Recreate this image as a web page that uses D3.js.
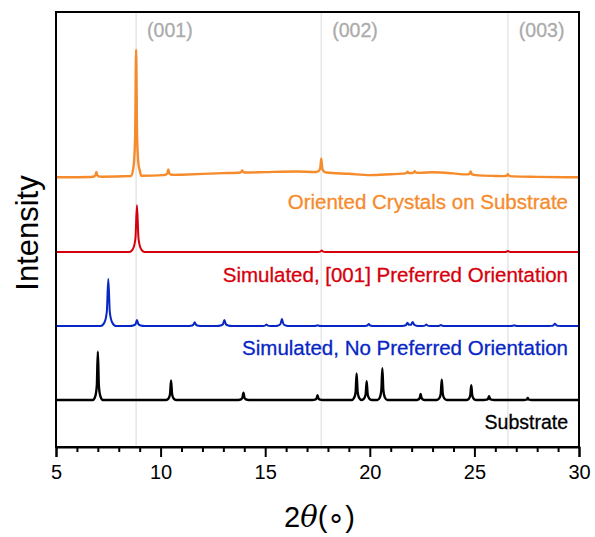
<!DOCTYPE html>
<html>
<head>
<meta charset="utf-8">
<script src="https://cdn.jsdelivr.net/npm/d3@7/dist/d3.min.js"></script>
<style>
  body { margin: 0; background: #fff; }
  text { font-family: "Liberation Sans", Arial, sans-serif; }
</style>
</head>
<body>
<div id="chart"></div>
<script>
// data (2theta in degrees, intensity in arbitrary units)
var xTicks = [5, 10, 15, 20, 25, 30];
var refLines = [8.83, 17.68, 26.6];
var refLabels = ["(001)", "(002)", "(003)"];

var seriesNames = ["Oriented Crystals on Substrate", "Simulated, [001] Preferred Orientation",
    "Simulated, No Preferred Orientation", "Substrate"];
var seriesColors = ["#f68b2c", "#d6000c", "#0726c4", "#000000"];
var seriesOffsets = [62.0, 44.8, 27.8, 10.8];
var seriesWidths = [0.08, 0.12, 0.12, 0.08];

// baselines relative to offset
var orangeBase = [[5, 0], [7, 0.1], [9, 0.35], [11, 0.6], [13, 0.95], [15, 1.2], [16.5, 1.35],
    [17.5, 1.2], [19, 0.8], [20, 0.5], [21, 0.7], [22, 0.95], [23, 1.15], [24, 0.9],
    [25, 0.5], [26, 0.3], [28, 0.1], [30, 0]];
var flatBase = [[5, 0], [30, 0]];

// peaks [position, height]
var orangePeaks = [[6.93, 1.15], [8.83, 29.0], [10.37, 1.3], [13.9, 0.5], [17.68, 3.2],
    [21.8, 0.4], [22.15, 0.45], [24.82, 0.8], [26.6, 0.5]];
var redPeaks = [[8.87, 10.8], [17.7, 0.35], [26.6, 0.25]];
var bluePeaks = [[7.5, 10.8], [8.87, 1.4], [11.63, 0.9], [13.05, 1.4], [15.06, 0.35],
    [15.8, 1.6], [17.5, 0.2], [19.95, 0.45], [21.8, 0.7], [22.05, 0.9], [22.7, 0.35],
    [23.4, 0.25], [26.9, 0.2], [28.85, 0.55]];
var blackPeaks = [[7.0, 11.1], [10.5, 4.5], [13.96, 1.7], [17.5, 1.1], [19.37, 6.1],
    [19.85, 4.3], [20.6, 7.3], [22.43, 1.4], [23.44, 4.7], [24.85, 3.4], [25.7, 0.9],
    [27.55, 0.45]];

var seriesBases = [orangeBase, flatBase, flatBase, flatBase];
var seriesPeaks = [orangePeaks, redPeaks, bluePeaks, blackPeaks];

var W = 595, H = 537;
var margin = { top: 12, right: 16, bottom: 90, left: 56 };
var width = W - margin.left - margin.right,
    height = H - margin.top - margin.bottom;

var svg = d3.select("#chart").append("svg")
    .attr("width", W).attr("height", H)
    .append("g")
    .attr("transform", "translate(" + margin.left + "," + margin.top + ")");

var x = d3.scaleLinear().domain([5, 30]).range([0, width]);
var y = d3.scaleLinear().domain([0, 100]).range([height, 0]);

// peak shape table
var profile = d3.scaleLinear()
    .domain([-3, -1.5, -0.6, 0, 0.6, 1.5, 3])
    .range([0, 0.08, 0.3, 1, 0.3, 0.08, 0])
    .clamp(true);

// reference lines
svg.selectAll(".ref").data(refLines).enter().append("line")
    .attr("x1", d => x(d)).attr("x2", d => x(d))
    .attr("y1", 0).attr("y2", height)
    .attr("stroke", "#e6e6e6").attr("stroke-width", 1.5);
svg.selectAll(".reflab").data(refLines).enter().append("text")
    .attr("x", d => x(d) + 11).attr("y", 25)
    .attr("fill", "#ababab").attr("stroke", "#ababab").attr("stroke-width", 0.3)
    .style("font-size", "19.5px")
    .text((d, i) => refLabels[i]);

function buildTrace(i) {
    var base = seriesBases[i], peaks = seriesPeaks[i], w = seriesWidths[i];
    var baseY = d3.scaleLinear().domain(base.map(d => d[0])).range(base.map(d => d[1]));
    var xs = base.map(d => d[0]);
    peaks.forEach(function(p) {
        profile.domain().forEach(k => xs.push(p[0] + k * w));
    });
    xs = Array.from(new Set(xs.filter(v => v >= 5 && v <= 30))).sort((a, b) => a - b);
    return xs.map(function(v) {
        var s = seriesOffsets[i] + baseY(v);
        peaks.forEach(p => { s += p[1] * profile((v - p[0]) / w); });
        return [v, s];
    });
}

var line = d3.line().x(d => x(d[0])).y(d => y(d[1])).curve(d3.curveMonotoneX);

seriesNames.forEach(function(name, i) {
    svg.append("path").datum(buildTrace(i))
        .attr("fill", "none")
        .attr("stroke", seriesColors[i])
        .attr("stroke-width", (i == 0 || i == 3) ? 2.4 : 2)
        .attr("stroke-linejoin", "round")
        .attr("d", line);
});

// series labels
var labelY = [197, 270, 343, 417];
seriesNames.forEach(function(name, i) {
    svg.append("text")
        .attr("x", width - 11).attr("y", labelY[i])
        .attr("text-anchor", "end")
        .attr("fill", seriesColors[i])
        .attr("stroke", seriesColors[i]).attr("stroke-width", 0.3)
        .style("font-size", i == 3 ? "19.5px" : "20.5px")
        .text(name);
});

// frame
svg.append("rect").attr("x", 0).attr("y", 0)
    .attr("width", width).attr("height", height)
    .attr("fill", "none").attr("stroke", "#000").attr("stroke-width", 2);

// x axis with minor ticks
var minor = d3.range(5, 31, 1).filter(v => xTicks.indexOf(v) < 0);
svg.append("g").attr("transform", "translate(0," + height + ")")
    .call(d3.axisBottom(x).tickValues(minor).tickSize(5).tickFormat(""))
    .call(g => g.select(".domain").remove())
    .call(g => g.selectAll("line").attr("stroke-width", 2));
var xAxis = svg.append("g").attr("transform", "translate(0," + height + ")")
    .call(d3.axisBottom(x).tickValues(xTicks).tickSize(10).tickPadding(8).tickFormat(d3.format("d")));
xAxis.select(".domain").attr("stroke-width", 2);
xAxis.selectAll("line").attr("stroke-width", 2);
xAxis.selectAll("text").style("font-size", "20px")
    .style("font-family", "'Liberation Sans', Arial, sans-serif");

// axis titles
var xt = svg.append("text")
    .attr("x", width / 2 + 2).attr("y", height + 80)
    .attr("text-anchor", "middle").style("font-size", "29px");
xt.append("tspan").text("2");
xt.append("tspan").style("font-style", "italic").style("font-family", "'DejaVu Serif', serif").text("θ");
xt.append("tspan").text("(∘)");

svg.append("text")
    .attr("transform", "rotate(-90)")
    .attr("x", -221).attr("y", -18)
    .attr("text-anchor", "middle").style("font-size", "31px")
    .text("Intensity");
</script>
</body>
</html>
